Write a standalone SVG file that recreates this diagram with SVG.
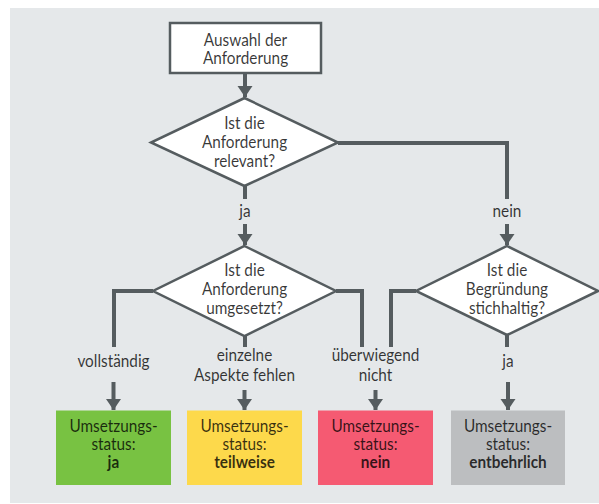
<svg xmlns="http://www.w3.org/2000/svg" width="599" height="504" viewBox="0 0 599 504">
<defs>
<marker id="ah" markerUnits="userSpaceOnUse" markerWidth="16" markerHeight="16" refX="11" refY="7.5" orient="auto">
<path d="M0,0 L11,7.5 L0,15 Z" fill="#555c5f"/>
</marker>
<style>
.bg{fill:#e5e8ea}
.n{fill:#fff;stroke:#555c5f;stroke-width:2.5}
.c{fill:none;stroke:#555c5f;stroke-width:4}
.a{fill:none;stroke:#555c5f;stroke-width:4;marker-end:url(#ah)}
text{font-family:Lato,"Open Sans","DejaVu Sans",sans-serif;font-size:16.5px;fill:#000;fill-opacity:0.78;text-anchor:middle;transform-box:fill-box;transform-origin:center;transform:scaleX(0.93)}
.b{font-weight:bold}
</style>
</defs>
<rect class="bg" x="10" y="8" width="589" height="495"/>
<g id="connectors">
<path class="a" d="M245,73 V97"/>
<path class="c" d="M338,143 H507 V199"/>
<path class="c" d="M245,186 V199"/>
<path class="a" d="M245,224 V245"/>
<path class="a" d="M507,224 V245"/>
<path class="c" d="M153,291 H114 V347"/>
<path class="c" d="M245,336 V347"/>
<path class="c" d="M336,291 H362 V347"/>
<path class="c" d="M416,291 H391 V347"/>
<path class="c" d="M507,334 V347"/>
<path class="a" d="M113.5,382 V410"/>
<path class="a" d="M244.5,390 V410"/>
<path class="a" d="M375.5,390 V410"/>
<path class="a" d="M508,382 V410"/>
<text x="245" y="217">ja</text>
<text x="507" y="217">nein</text>
<text x="113.5" y="367">vollständig</text>
<text x="244.5" y="361.5">einzelne</text>
<text x="244.5" y="381">Aspekte fehlen</text>
<text x="375.5" y="361.5">überwiegend</text>
<text x="375.5" y="381">nicht</text>
<text x="508" y="367">ja</text>
</g>
<g id="start">
<rect class="n" x="170" y="23" width="151" height="50"/>
<text x="245.5" y="46">Auswahl der</text>
<text x="245.5" y="64.5">Anforderung</text>
</g>
<g id="relevant">
<polygon class="n" points="244.5,98 338,142.5 244.5,186 151,142.5"/>
<text x="244.5" y="129.5">Ist die</text>
<text x="244.5" y="148.5">Anforderung</text>
<text x="244.5" y="167.5">relevant?</text>
</g>
<g id="umgesetzt">
<polygon class="n" points="244.5,246 336,291 244.5,336 153,291"/>
<text x="244.5" y="276.5">Ist die</text>
<text x="244.5" y="295.5">Anforderung</text>
<text x="244.5" y="314.5">umgesetzt?</text>
</g>
<g id="stichhaltig">
<polygon class="n" points="507,246 598,291 507,335 416,291"/>
<text x="507" y="276.5">Ist die</text>
<text x="507" y="295.5">Begründung</text>
<text x="507" y="314.5">stichhaltig?</text>
</g>
<g id="status-ja">
<rect x="56" y="410.5" width="115" height="74.5" fill="#78c242"/>
<text x="113.5" y="432">Umsetzungs-</text>
<text x="113.5" y="450">status:</text>
<text x="113.5" y="468.5" class="b">ja</text>
</g>
<g id="status-teilweise">
<rect x="187" y="410.5" width="115" height="74.5" fill="#fdd94b"/>
<text x="244.5" y="432">Umsetzungs-</text>
<text x="244.5" y="450">status:</text>
<text x="244.5" y="468.5" class="b">teilweise</text>
</g>
<g id="status-nein">
<rect x="318" y="410.5" width="115" height="74.5" fill="#f55a72"/>
<text x="375.5" y="432">Umsetzungs-</text>
<text x="375.5" y="450">status:</text>
<text x="375.5" y="468.5" class="b">nein</text>
</g>
<g id="status-entbehrlich">
<rect x="451" y="410.5" width="114" height="74.5" fill="#bcbec0"/>
<text x="508" y="432">Umsetzungs-</text>
<text x="508" y="450">status:</text>
<text x="508" y="468.5" class="b">entbehrlich</text>
</g>
</svg>
